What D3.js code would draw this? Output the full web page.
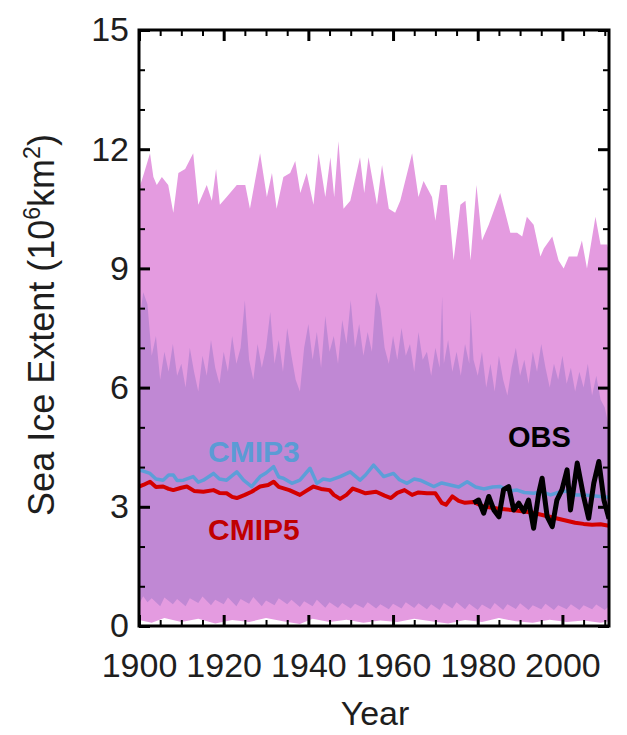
<!DOCTYPE html>
<html>
<head>
<meta charset="utf-8">
<script src="https://cdn.jsdelivr.net/npm/d3@7"></script>
<style>
  body { margin: 0; background: #fff; }
  svg { display: block; font-family: "Liberation Sans", Arial, Helvetica, sans-serif; }
</style>
</head>
<body>
<svg id="chart" width="627" height="735"></svg>
<script>
// ---- data: [year, 10^6 km^2] ----

// outer model spread (light pink)
var outerMax = [[1900,11.0],[1901.2,11.4],[1902.6,11.9],[1903.4,11.3],[1904.2,11.1],[1905.4,11.3],[1906.9,11.1],
  [1908.1,10.4],[1909.3,11.4],[1910.9,11.5],[1912.8,11.9],[1914,10.6],[1916,11.1],[1917.2,10.7],[1918.2,11.5],
  [1919.1,10.6],[1920.7,10.8],[1923.1,11.1],[1925.1,11.1],[1926.2,10.5],[1928.6,11.9],[1930.2,10.8],[1931.4,11.4],
  [1932.5,10.5],[1934.1,11.3],[1935.7,11.4],[1936.9,11.7],[1938.1,10.9],[1939.6,11.4],[1941.2,10.6],[1942.4,11.9],
  [1944,10.8],[1945.2,11.8],[1946.1,10.8],[1947.1,12.2],[1948.3,10.5],[1949.9,10.7],[1952.2,11.8],[1953.2,10.9],
  [1954.2,11.8],[1956.2,10.6],[1957.4,11.6],[1959,10.5],[1960.5,10.4],[1961.7,10.7],[1964.5,11.9],[1966,10.8],
  [1967.2,11.2],[1969.2,10.8],[1970,10.2],[1971.2,11.1],[1972.7,11.1],[1974.3,9.2],[1975.9,10.6],[1977.1,10.7],
  [1978.3,9.2],[1979.7,11.1],[1981,9.7],[1982.6,10.1],[1985.3,10.9],[1987.7,9.9],[1989.3,9.9],[1990.5,9.8],
  [1991.6,10.3],[1993.2,10.1],[1994.8,9.3],[1995.6,9.5],[1997.6,9.8],[1999.1,9.2],[2000.3,9.0],[2001.5,9.3],
  [2003.5,9.3],[2004.6,9.7],[2005.8,9.0],[2007.8,10.3],[2009,9.6],[2010.6,9.6],[2011,9.4]];
var outerMin = [[1900,0.15],[1903,0.08],[1906,0.2],[1910,0.1],[1914,0.18],[1918,0.06],[1922,0.15],[1926,0.1],
  [1930,0.2],[1934,0.12],[1938,0.05],[1941,0.18],[1945,0.1],[1949,0.16],[1953,0.08],[1957,0.14],[1961,0.1],
  [1965,0.18],[1969,0.12],[1973,0.06],[1977,0.15],[1981,0.1],[1985,0.2],[1989,0.12],[1993,0.08],[1997,0.16],
  [2001,0.1],[2005,0.14],[2009,0.08],[2011,0.12]];

// inner model spread (purple)
var innerMax = [[1900,7.6],[1901,8.4],[1902,8.1],[1903,6.8],[1904,7.3],[1905,6.2],[1906,6.9],[1907,6.4],[1908,7.1],
  [1909,6.3],[1910,6.6],[1911,6.0],[1912,7.0],[1913,6.4],[1914,5.9],[1915,6.8],[1916,6.3],[1917,7.2],[1918,6.5],
  [1919,6.1],[1920,6.9],[1921,6.4],[1922,7.3],[1923,6.6],[1924,7.0],[1925,8.2],[1926,6.7],[1927,6.2],[1928,7.1],
  [1929,6.5],[1930,7.0],[1931,7.9],[1932,6.6],[1933,7.2],[1934,6.4],[1935,7.5],[1936,6.8],[1937,6.2],[1938,5.9],
  [1939,7.0],[1940,7.6],[1941,6.7],[1942,7.4],[1943,6.5],[1944,7.8],[1945,6.9],[1946,7.3],[1947,6.6],[1948,7.7],
  [1949,7.1],[1950,8.2],[1951,7.0],[1952,7.6],[1953,6.8],[1954,7.4],[1955,6.9],[1956,8.4],[1957,8.0],[1958,7.0],
  [1959,6.6],[1960,7.3],[1961,6.7],[1962,7.5],[1963,6.8],[1964,7.1],[1965,6.4],[1966,7.4],[1967,6.7],[1968,6.9],
  [1969,6.3],[1970,7.0],[1971,6.5],[1971.6,8.3],[1972,6.6],[1973,7.2],[1974,6.4],[1975,6.9],[1976,6.3],[1977,7.1],
  [1978,6.6],[1978.3,7.96],[1979,6.7],[1980,6.3],[1981,6.9],[1982,6.0],[1983,6.6],[1984,5.9],[1985,6.8],[1986,6.2],
  [1987,5.8],[1988,6.5],[1989,7.0],[1990,6.3],[1991,6.7],[1992,6.1],[1993,6.9],[1994,6.4],[1995,7.1],[1996,6.5],
  [1997,6.0],[1998,6.6],[1999,6.2],[2000,6.8],[2001,6.1],[2002,6.5],[2003,5.9],[2004,6.4],[2005,6.0],[2006,6.6],
  [2007,5.8],[2008,6.3],[2009,5.7],[2010,5.5],[2011,5.0]];
var innerMin = [[1900,0.55],[1901,0.75],[1902,0.6],[1903,0.7],[1905,0.5],[1906,0.72],[1908,0.55],[1909,0.68],
  [1911,0.5],[1912,0.7],[1914,0.58],[1915,0.74],[1917,0.52],[1918,0.66],[1920,0.55],[1921,0.72],[1923,0.5],
  [1924,0.68],[1926,0.56],[1927,0.73],[1929,0.5],[1930,0.64],[1932,0.52],[1933,0.7],[1935,0.55],[1936,0.66],
  [1938,0.48],[1939,0.62],[1941,0.5],[1942,0.66],[1944,0.46],[1945,0.6],[1947,0.45],[1948,0.58],[1950,0.44],
  [1951,0.56],[1953,0.45],[1954,0.6],[1956,0.44],[1957,0.55],[1959,0.42],[1960,0.56],[1962,0.44],[1963,0.6],
  [1965,0.45],[1966,0.57],[1968,0.42],[1969,0.55],[1971,0.4],[1972,0.58],[1974,0.44],[1975,0.6],[1977,0.42],
  [1978,0.56],[1980,0.4],[1981,0.54],[1983,0.42],[1984,0.58],[1986,0.4],[1987,0.55],[1989,0.43],[1990,0.57],
  [1992,0.4],[1993,0.52],[1995,0.42],[1996,0.56],[1998,0.4],[1999,0.52],[2001,0.42],[2002,0.55],[2004,0.4],
  [2005,0.52],[2007,0.42],[2008,0.54],[2010,0.4],[2011,0.5]];

// multi-model means
var cmip3 = [[1900,3.93],[1901,3.9],[1902.6,3.84],[1904,3.7],[1905.7,3.67],[1907,3.8],[1908.1,3.8],[1909,3.66],
  [1910.5,3.67],[1912.8,3.76],[1914,3.62],[1915.2,3.67],[1917.6,3.84],[1919,3.7],[1920.7,3.67],[1923.1,3.88],
  [1924.7,3.67],[1926.6,3.51],[1928.6,3.76],[1930,3.85],[1931.8,4.01],[1933,3.75],[1934.1,3.72],[1936.1,3.59],
  [1938,3.67],[1940.4,3.97],[1942,3.59],[1943.5,3.7],[1945.2,3.67],[1947.5,3.76],[1949.9,3.88],[1952.2,3.67],
  [1953.5,3.8],[1955.4,4.05],[1957.8,3.76],[1960.1,3.84],[1961.5,3.68],[1963.3,3.59],[1965,3.7],[1966.4,3.67],
  [1969.6,3.51],[1971.5,3.6],[1973.5,3.55],[1975.5,3.5],[1977.5,3.63],[1979.5,3.5],[1981.4,3.45],[1983.5,3.5],
  [1985.3,3.51],[1987.5,3.4],[1989.3,3.42],[1991,3.36],[1993.2,3.34],[1995,3.38],[1997.2,3.3],[1999,3.36],
  [2001.1,3.4],[2003,3.3],[2005,3.3],[2007,3.28],[2009,3.26],[2011,3.24]];
var cmip5 = [[1900,3.51],[1901,3.55],[1902.6,3.63],[1904,3.5],[1905.7,3.51],[1907,3.45],[1908.1,3.42],[1910,3.48],
  [1911.3,3.51],[1913,3.4],[1915.2,3.38],[1917.6,3.42],[1919,3.35],[1920.7,3.34],[1922,3.25],[1923.1,3.22],
  [1925,3.3],[1926.6,3.38],[1928.6,3.51],[1930.5,3.55],[1931.8,3.63],[1933,3.5],[1935.5,3.42],[1938,3.3],
  [1939.5,3.4],[1941.2,3.51],[1943,3.45],[1945,3.42],[1946,3.3],[1947.5,3.2],[1949,3.3],[1950.5,3.46],[1952,3.4],
  [1953.5,3.34],[1956,3.38],[1958,3.28],[1959.5,3.22],[1961,3.35],[1962.7,3.42],[1964.5,3.3],[1966,3.36],
  [1968,3.34],[1970,3.34],[1971.5,3.1],[1972.5,3.05],[1974,3.26],[1975.5,3.15],[1977,3.1],[1979,3.12],
  [1981,3.02],[1983,2.98],[1985,2.95],[1988,2.92],[1991,2.88],[1993,2.85],[1995,2.8],[1997,2.75],[1999,2.7],
  [2001,2.65],[2003,2.6],[2005,2.57],[2007,2.55],[2009,2.56],[2011,2.52]];

// observations
var obs = [[1979,3.1],[1980.2,3.17],[1981.4,2.84],[1982.6,3.26],[1983.8,2.92],[1985,2.75],[1986.1,3.43],
  [1987.3,3.51],[1988.5,2.92],[1989.7,3.09],[1990.9,2.88],[1992,3.17],[1993.2,2.46],[1994.4,3.34],[1995.2,3.72],
  [1996.4,2.75],[1997.6,2.5],[1998.7,3.17],[1999.9,3.43],[2001.1,3.93],[2001.9,2.92],[2003.5,4.1],[2005,3.26],
  [2006.2,2.71],[2007.4,3.59],[2008.6,4.14],[2009.8,3.17],[2011,2.7]];

var xTicks = [1900, 1920, 1940, 1960, 1980, 2000];
var xMinor = [1905, 1910, 1915, 1925, 1930, 1935, 1945, 1950, 1955, 1965, 1970, 1975, 1985, 1990, 1995, 2005, 2010];
var yTicks = [0, 3, 6, 9, 12, 15];
var yMinor = [1, 2, 4, 5, 7, 8, 10, 11, 13, 14];

// ---- drawing ----
var plot = {left: 139, right: 609, top: 30, bottom: 626};

var x = d3.scaleLinear().domain([1900, 2011]).range([plot.left, plot.right]);
var y = d3.scaleLinear().domain([0, 15]).range([plot.bottom, plot.top]);

var svg = d3.select("#chart");

svg.append("clipPath").attr("id", "clip").append("rect")
    .attr("x", plot.left).attr("y", plot.top)
    .attr("width", plot.right - plot.left).attr("height", plot.bottom - plot.top);

var g = svg.append("g").attr("clip-path", "url(#clip)");

var line = d3.line()
    .x(function (d) { return x(d[0]); })
    .y(function (d) { return y(d[1]); });

// closed band: upper edge left to right, lower edge back
function band(upper, lower) {
    return line(upper.concat(lower.slice().reverse())) + "Z";
}

g.append("path").attr("d", band(outerMax, outerMin)).attr("fill", "#e49be0");
g.append("path").attr("d", band(innerMax, innerMin)).attr("fill", "#c088d4");

var series = [
    {data: cmip3, color: "#5d9ed8", width: 3.5},
    {data: cmip5, color: "#d40000", width: 4},
    {data: obs, color: "#000", width: 5}
];
series.forEach(function (s) {
    g.append("path")
        .attr("d", line(s.data))
        .attr("fill", "none")
        .attr("stroke", s.color)
        .attr("stroke-width", s.width)
        .attr("stroke-linejoin", "round");
});

// ticks point inward on all four sides
function ticks(axis, tx, ty, w) {
    var a = svg.append("g")
        .attr("transform", "translate(" + tx + "," + ty + ")")
        .call(axis);
    a.select(".domain").remove();
    a.selectAll("line").attr("stroke", "#000").attr("stroke-width", w);
    a.attr("font-family", null).attr("font-size", 34).style("color", "#1e1e1e");
    return a;
}

ticks(d3.axisBottom(x).tickValues(xMinor).tickSize(-6).tickFormat(""), 0, plot.bottom, 2);
ticks(d3.axisTop(x).tickValues(xMinor).tickSize(-6).tickFormat(""), 0, plot.top, 2);
ticks(d3.axisLeft(y).tickValues(yMinor).tickSize(-6).tickFormat(""), plot.left, 0, 2);
ticks(d3.axisRight(y).tickValues(yMinor).tickSize(-6).tickFormat(""), plot.right, 0, 2);

ticks(d3.axisBottom(x).tickValues(xTicks).tickSize(-11).tickPadding(27).tickFormat(d3.format("d")), 0, plot.bottom, 3);
ticks(d3.axisTop(x).tickValues(xTicks).tickSize(-11).tickFormat(""), 0, plot.top, 3);
ticks(d3.axisLeft(y).tickValues(yTicks).tickSize(-11).tickPadding(10), plot.left, 0, 3);
ticks(d3.axisRight(y).tickValues(yTicks).tickSize(-11).tickFormat(""), plot.right, 0, 3);

svg.append("rect")
    .attr("x", plot.left).attr("y", plot.top)
    .attr("width", plot.right - plot.left).attr("height", plot.bottom - plot.top)
    .attr("fill", "none").attr("stroke", "#000").attr("stroke-width", 3);

// series labels
svg.append("text").attr("x", 208).attr("y", 462).text("CMIP3")
    .attr("font-size", 30).attr("font-weight", "bold").attr("fill", "#5b9bd5");
svg.append("text").attr("x", 208).attr("y", 540).text("CMIP5")
    .attr("font-size", 30).attr("font-weight", "bold").attr("fill", "#c00000");
svg.append("text").attr("x", 508).attr("y", 447).text("OBS")
    .attr("font-size", 29).attr("font-weight", "bold").attr("fill", "#000");

// axis titles
svg.append("text").attr("x", 375).attr("y", 725)
    .attr("text-anchor", "middle").attr("font-size", 34).attr("fill", "#1e1e1e")
    .text("Year");

var yt = svg.append("text")
    .attr("transform", "translate(54,325) rotate(-90)")
    .attr("text-anchor", "middle").attr("font-size", 36).attr("fill", "#1e1e1e");
yt.append("tspan").text("Sea Ice Extent (10");
yt.append("tspan").attr("dy", -14).attr("font-size", 23).text("6");
yt.append("tspan").attr("dy", 14).text("km");
yt.append("tspan").attr("dy", -14).attr("font-size", 23).text("2");
yt.append("tspan").attr("dy", 14).text(")");
</script>
</body>
</html>
